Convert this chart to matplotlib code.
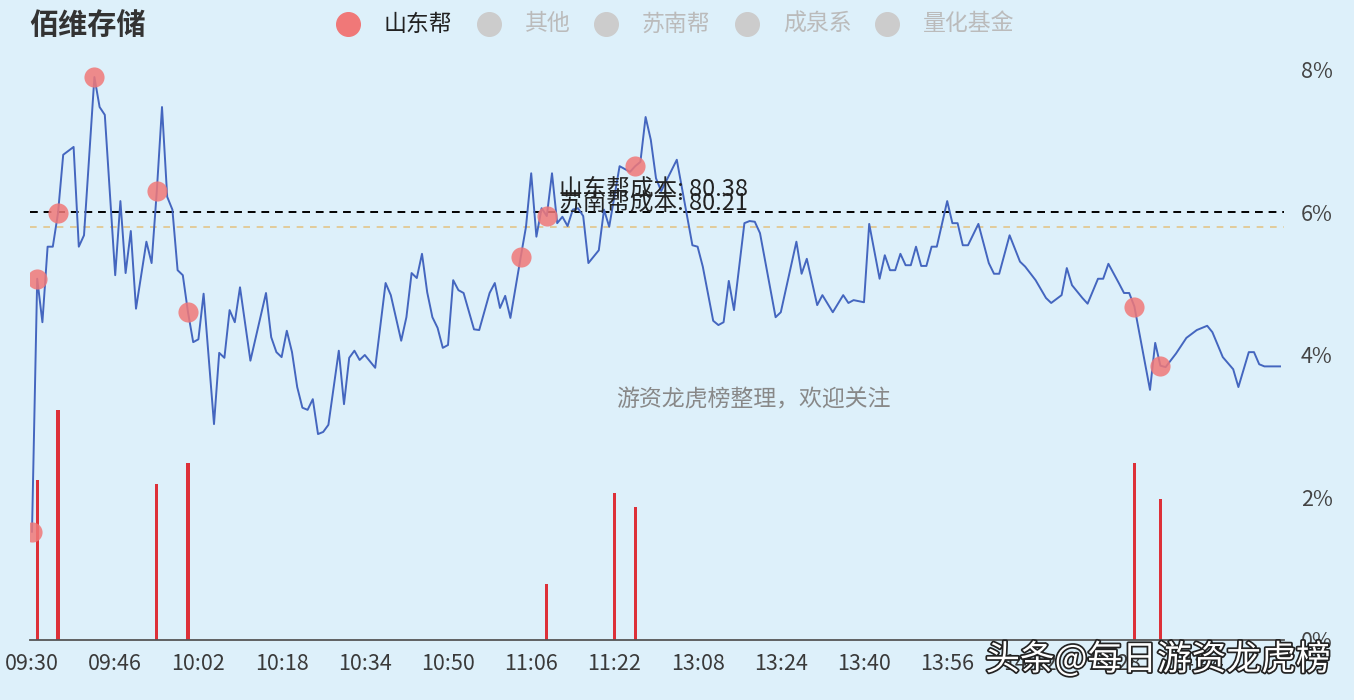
import matplotlib

matplotlib.use("Agg")
import matplotlib.patheffects as pe
import matplotlib.pyplot as plt
from matplotlib.lines import Line2D

plt.rcParams["font.family"] = ["Noto Sans CJK SC", "DejaVu Sans"]

# --- data (minute index from 09:30, % change) ---
line_min = [
    0, 1, 2, 3, 4, 5, 6, 8, 9, 10, 12, 13, 14, 16, 17, 18, 19, 20, 22, 23,
    24, 25, 26, 27, 28, 29, 30, 31, 32, 33, 35, 36, 37, 38, 39, 40, 42, 45,
    46, 47, 48, 49, 50, 51, 52, 53, 54, 55, 56, 57, 59, 60, 61, 62, 63, 64,
    66, 68, 69, 71, 72, 73, 74, 75, 76, 77, 78, 79, 80, 81, 82, 83, 85, 86,
    88, 89, 90, 91, 92, 94, 95, 96, 97, 98, 99, 100, 101, 102, 103, 104, 105,
    106, 107, 109, 110, 111, 113, 115, 116, 117, 118, 119, 120, 121, 124, 127,
    128, 129, 131, 132, 133, 134, 135, 137, 138, 139, 140, 143, 144, 147, 148,
    149, 151, 152, 154, 156, 157, 158, 160, 161, 163, 164, 165, 166, 167, 168,
    169, 170, 171, 172, 173, 174, 176, 177, 178, 179, 180, 182, 184, 185, 186,
    188, 190, 191, 193, 195, 196, 198, 199, 200, 202, 203, 205, 206, 207, 209,
    210, 211, 212, 215, 216, 217, 218, 220, 222, 224, 226, 227, 229, 231, 232,
    234, 235, 236, 237, 240,
]
line_pct = [
    1.52, 5.07, 4.46, 5.52, 5.52, 5.99, 6.81, 6.92, 5.52, 5.68, 7.90, 7.48,
    7.37, 5.12, 6.16, 5.15, 5.74, 4.65, 5.59, 5.29, 6.30, 7.48, 6.22, 6.04,
    5.19, 5.12, 4.60, 4.18, 4.22, 4.86, 3.03, 4.03, 3.96, 4.63, 4.46, 4.95,
    3.92, 4.87, 4.25, 4.04, 3.97, 4.34, 4.04, 3.55, 3.26, 3.23, 3.38, 2.89,
    2.92, 3.02, 4.06, 3.31, 3.96, 4.06, 3.93, 4.00, 3.82, 5.01, 4.84, 4.20,
    4.53, 5.15, 5.08, 5.42, 4.88, 4.53, 4.38, 4.10, 4.14, 5.05, 4.91, 4.87,
    4.36, 4.35, 4.87, 5.01, 4.66, 4.83, 4.52, 5.38, 5.80, 6.55, 5.66, 6.06,
    5.95, 6.55, 5.85, 5.94, 5.81, 6.04, 6.06, 5.95, 5.29, 5.47, 6.04, 5.80,
    6.65, 6.57, 6.65, 6.71, 7.34, 7.02, 6.48, 6.30, 6.74, 5.54, 5.52, 5.24,
    4.48, 4.42, 4.46, 5.04, 4.63, 5.85, 5.88, 5.87, 5.71, 4.53, 4.60, 5.59,
    5.14, 5.35, 4.70, 4.84, 4.60, 4.84, 4.73, 4.77, 4.74, 5.84, 5.07, 5.40,
    5.19, 5.19, 5.42, 5.26, 5.26, 5.52, 5.25, 5.25, 5.52, 5.52, 6.16, 5.85,
    5.85, 5.54, 5.54, 5.84, 5.29, 5.14, 5.14, 5.68, 5.31, 5.24, 5.05, 4.80,
    4.73, 4.84, 5.22, 4.98, 4.80, 4.72, 5.07, 5.07, 5.28, 5.01, 4.87, 4.87,
    4.68, 3.51, 4.17, 3.85, 3.83, 4.02, 4.24, 4.35, 4.41, 4.32, 3.97, 3.80,
    3.55, 4.04, 4.04, 3.87, 3.84, 3.84,
]

# 山东帮 trades: dots on the price line, bars for size
dot_min = [0, 1, 5, 12, 24, 30, 94, 99, 116, 212, 217]
bar_min = [1, 5, 24, 30, 99, 112, 116, 212, 217]
bar_pct = [2.25, 3.23, 2.19, 2.48, 0.79, 2.06, 1.87, 2.48, 1.98]

cost_names = ["山东帮成本", "苏南帮成本"]
cost_price = [80.38, 80.21]
cost_pct = [6.00, 5.80]

legend_names = ["山东帮", "其他", "苏南帮", "成泉系", "量化基金"]
tick_labels = [
    "09:30", "09:46", "10:02", "10:18", "10:34", "10:50", "11:06", "11:22",
    "13:08", "13:24", "13:40", "13:56", "14:12", "14:28", "14:44",
]
y_ticks = [0, 2, 4, 6, 8]

BG = "#ddf0fa"
LINE = "#4466bf"
DOT = "#f07878"
BAR = "#dd3038"

fig = plt.figure(figsize=(13.54, 7.0), dpi=100, facecolor=BG)
ax = fig.add_axes([30 / 1354, 60 / 700, 1254 / 1354, 580 / 700], facecolor=BG)

ax.bar(bar_min, bar_pct, width=0.6, color=BAR, zorder=2)
ax.plot(line_min, line_pct, color=LINE, lw=1.4, zorder=3)
pct_at = dict(zip(line_min, line_pct))
ax.scatter(dot_min, [pct_at[m] for m in dot_min], s=210, color=DOT,
           alpha=0.85, lw=0, zorder=4)

ax.axhline(cost_pct[0], color="black", ls=(0, (4, 3)), lw=1.4, zorder=2.5)
ax.axhline(cost_pct[1], color="#e3c58a", ls=(0, (4, 4)), lw=1.2, zorder=2.5)
ax.text(101.3, 6.33, f"{cost_names[0]}: {cost_price[0]}", fontsize=17,
        color="#222222", va="center", ha="left", zorder=5)
ax.text(101.3, 6.13, f"{cost_names[1]}: {cost_price[1]}", fontsize=17,
        color="#222222", va="center", ha="left", zorder=5)

ax.set_xlim(-0.385, 240.77)
ax.set_ylim(0, 8.14)
ax.set_xticks([16 * i for i in range(len(tick_labels))])
ax.set_xticklabels(tick_labels)
ax.set_yticks(y_ticks)
ax.set_yticklabels([f"{v}%" for v in y_ticks])
ax.yaxis.tick_right()
ax.tick_params(axis="x", length=0, pad=9, labelsize=15.5, labelcolor="#3a3a3a")
ax.tick_params(axis="y", length=0, pad=12, labelsize=15.5, labelcolor="#444444")
for side in ["top", "left", "right"]:
    ax.spines[side].set_visible(False)
ax.spines["bottom"].set_color("#555555")
ax.spines["bottom"].set_linewidth(1.3)

# title and legend
fig.text(29 / 1354, 1 - 25 / 700, "佰维存储", fontsize=21, fontweight="bold",
         color="#333333", va="center", ha="left")
legend_x = [348, 489, 606, 747, 887]
for i, (name, lx) in enumerate(zip(legend_names, legend_x)):
    active = i == 0
    fig.add_artist(Line2D([lx / 1354], [1 - 24 / 700], marker="o", ms=17,
                          color=DOT if active else "#cccccc", lw=0,
                          transform=fig.transFigure))
    fig.text((lx + 36) / 1354, 1 - 24 / 700, name, fontsize=16.5,
             color="#222222" if active else "#bbbbbb", va="center", ha="left")

# watermarks
fig.text(753 / 1354, 1 - 400 / 700, "游资龙虎榜整理，欢迎关注", fontsize=16.5,
         color="#888888", va="center", ha="center")
fig.text(1158 / 1354, 1 - 660 / 700, "头条@每日游资龙虎榜", fontsize=25,
         color="white", va="center", ha="center",
         path_effects=[pe.withStroke(linewidth=2.5, foreground="#222222")])

fig.savefig("out.png", dpi=100, facecolor=BG)
